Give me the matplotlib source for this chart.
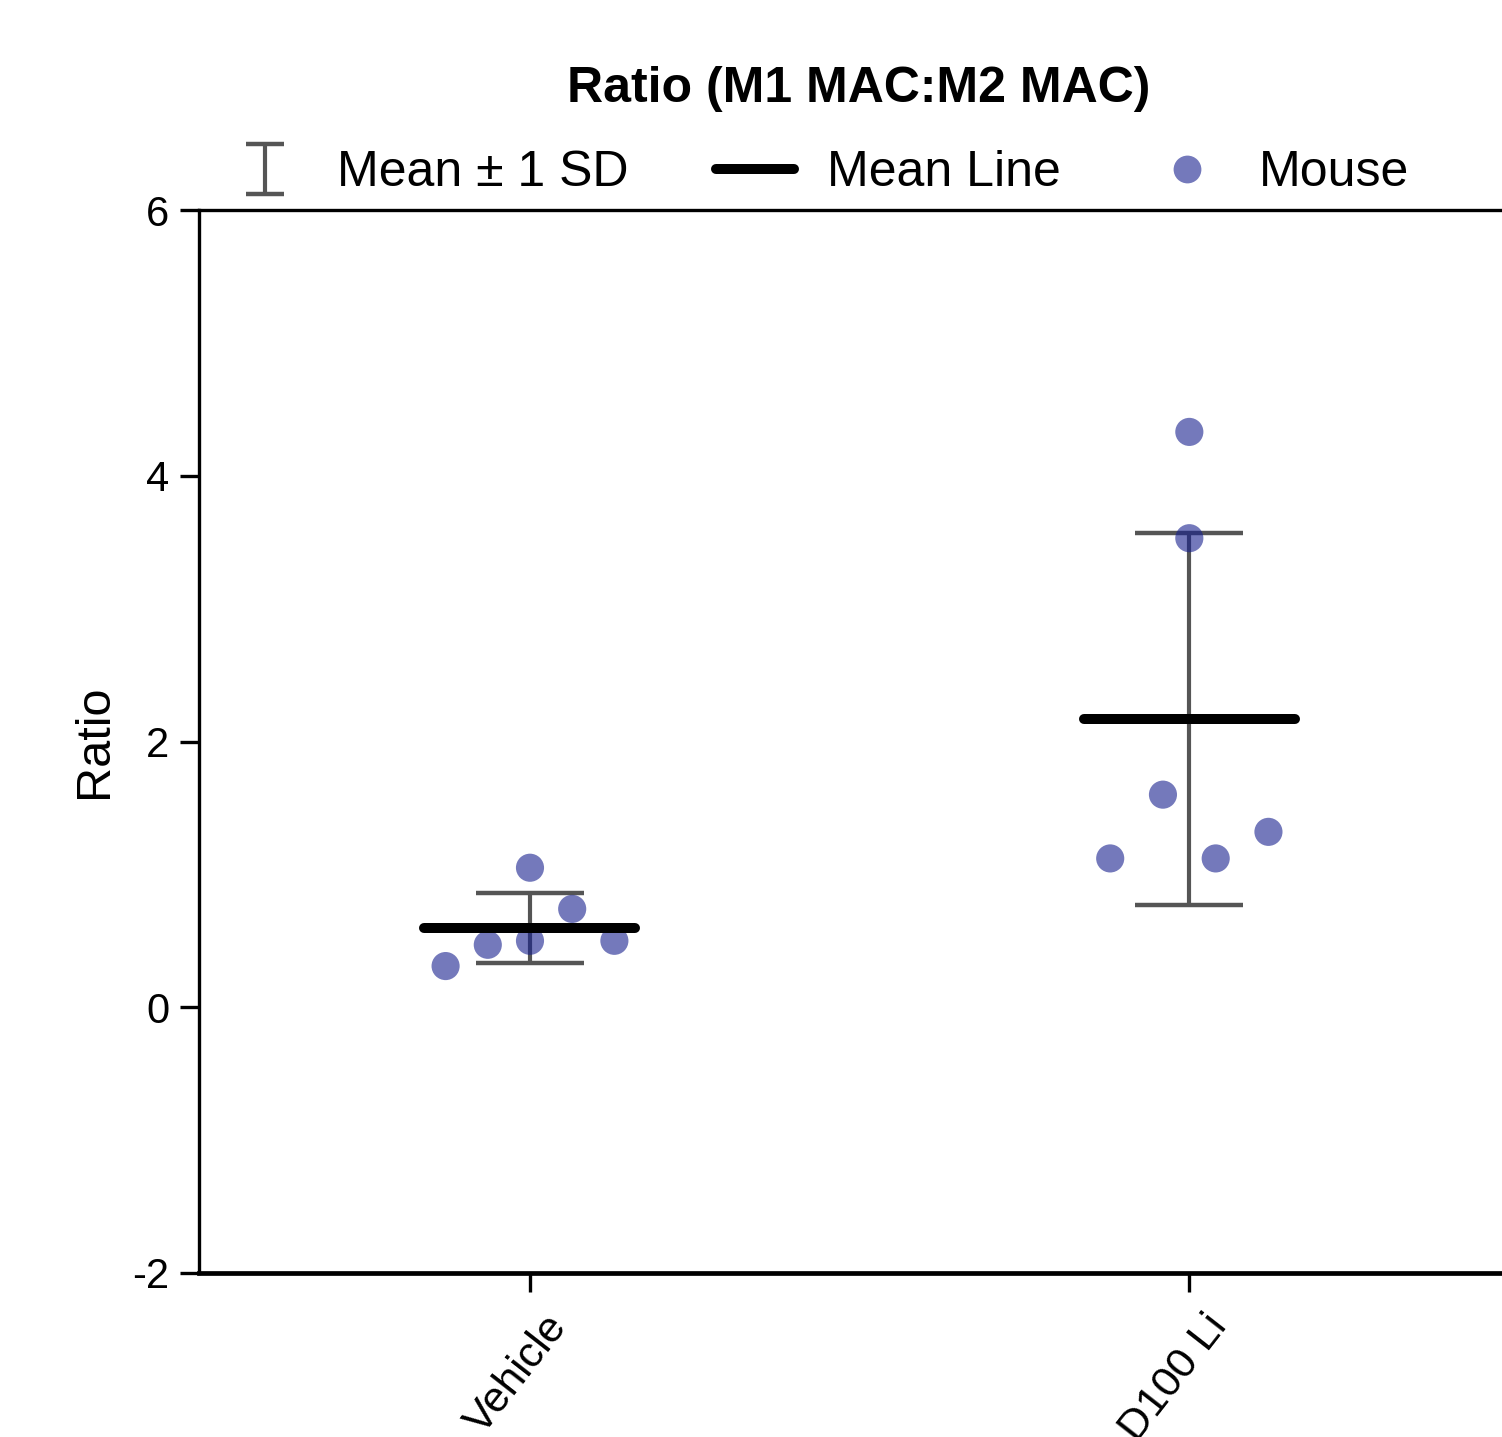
import numpy as np
import matplotlib
matplotlib.use("Agg")
import matplotlib.pyplot as plt
from matplotlib.lines import Line2D
from matplotlib.legend_handler import HandlerErrorbar
from matplotlib.transforms import ScaledTranslation

plt.rcParams['font.family'] = ['Liberation Sans', 'DejaVu Sans']
plt.rcParams['axes.unicode_minus'] = False

# data
groups = ["Vehicle", "D100 Li"]
vehicle_vals = [0.31, 0.47, 0.50, 1.05, 0.74, 0.50]
d100_vals = [4.33, 3.53, 1.60, 1.12, 1.12, 1.32]
# horizontal scatter of the dots inside each column (category units)
vehicle_jitter = [-0.128, -0.064, 0.0, 0.0, 0.064, 0.128]
d100_jitter = [0.0, 0.0, -0.04, -0.12, 0.04, 0.12]
yticks = [-2, 0, 2, 4, 6]

dot_color = '#17208e'
bar_color = '#555555'

fig = plt.figure(figsize=(15.02, 14.37), dpi=100)
# axes runs off the right edge like in the original export
ax = fig.add_axes([199 / 1502, 164 / 1437, 1320 / 1502, 1063 / 1437])

all_vals = [vehicle_vals, d100_vals]
all_jit = [vehicle_jitter, d100_jitter]
xpos = np.arange(len(groups))
means = np.array([np.mean(v) for v in all_vals])
sds = np.array([np.std(v, ddof=1) for v in all_vals])

eb = ax.errorbar(xpos, means, yerr=sds, fmt='none', ecolor=bar_color,
                 elinewidth=3, capsize=39, capthick=3.2, zorder=2,
                 label='Mean ± 1 SD')

for x, vals, jit in zip(xpos, all_vals, all_jit):
    ax.scatter(x + np.array(jit), vals, s=410, color=dot_color, alpha=0.6,
               edgecolors='none', zorder=3)

ml = ax.hlines(means, xpos - 0.16, xpos + 0.16, colors='black',
               linewidth=7.2, zorder=4)
ml.set_capstyle('round')

ax.set_xlim(-0.502, 1.5)
ax.set_ylim(-2, 6)
ax.set_yticks(yticks)
ax.set_xticks(xpos)
ax.tick_params(axis='x', labelbottom=False, length=14, width=2.4)

# rotated category labels, shifted right of the tick like the original
shift = ScaledTranslation(0.30, -0.47, fig.dpi_scale_trans)
for x, g in zip(xpos, groups):
    ax.text(x, 0, g, transform=ax.get_xaxis_transform() + shift,
            rotation=52, ha='right', va='center', rotation_mode='anchor',
            fontsize=31, clip_on=False)

ax.tick_params(axis='y', labelsize=30, length=13.5, width=2.4, pad=8)
ax.spines['right'].set_visible(False)
ax.spines['left'].set_linewidth(2.4)
ax.spines['top'].set_linewidth(2.4)
ax.spines['bottom'].set_linewidth(3.4)

ax.set_ylabel('Ratio', fontsize=35, labelpad=11)
ax.set_title('Ratio (M1 MAC:M2 MAC)', fontsize=36, fontweight='bold', pad=78)


def small_caps(handle, orig):
    handle.update_from(orig)
    if isinstance(handle, Line2D):
        handle.set_markersize(27)


mean_handle = Line2D([], [], color='black', linewidth=7.2, solid_capstyle='round')
dot_handle = Line2D([], [], linestyle='none', marker='o', markersize=20,
                    markerfacecolor=dot_color, markeredgecolor='none', alpha=0.6)

fig.legend([eb, mean_handle, dot_handle], ['Mean ± 1 SD', 'Mean Line', 'Mouse'],
           handler_map={type(eb): HandlerErrorbar(update_func=small_caps)},
           loc='center left', bbox_to_anchor=(226 / 1502, 1 - 173 / 1437),
           ncol=3, frameon=False, fontsize=36, handlelength=1.56,
           handletextpad=0.66, columnspacing=1.75, borderpad=0, borderaxespad=0,
           numpoints=1)

fig.savefig('out.png', dpi=100)
